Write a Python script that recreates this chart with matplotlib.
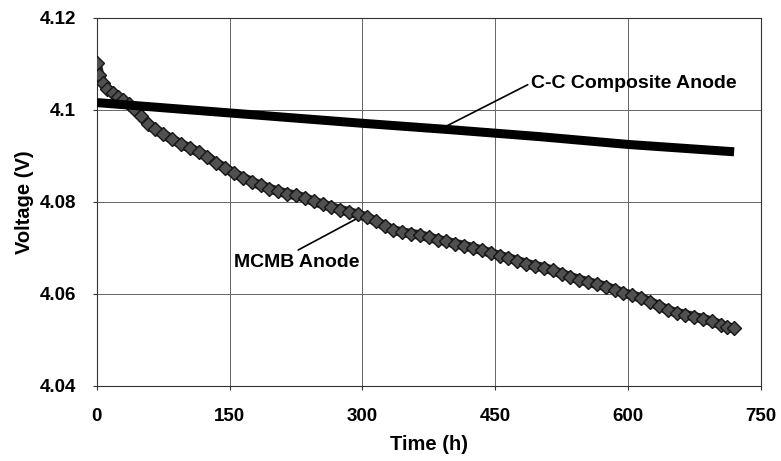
import matplotlib
matplotlib.use("Agg")
import matplotlib.pyplot as plt

plt.rcParams['font.family'] = ['Liberation Sans', 'DejaVu Sans']
plt.rcParams['font.weight'] = 'bold'

# MCMB anode: voltage
mcmb_time = [0, 3, 7, 12, 18, 24, 30, 36, 42, 50, 58, 66, 75, 85, 95, 105, 115, 125,
             135, 145, 155, 165, 175, 185, 195, 205, 215, 225, 235, 245, 255, 265,
             275, 285, 295, 305, 315, 325, 335, 345, 355, 365, 375, 385, 395, 405,
             415, 425, 435, 445, 455, 465, 475, 485, 495, 505, 515, 525, 535, 545,
             555, 565, 575, 585, 595, 605, 615, 625, 635, 645, 655, 665, 675, 685,
             695, 705, 712, 720]
mcmb_volt = [4.1102, 4.1075, 4.1058, 4.1046, 4.1036, 4.1029, 4.1021, 4.1012, 4.1002,
             4.0986, 4.0970, 4.0958, 4.0947, 4.0936, 4.0926, 4.0917, 4.0908, 4.0898,
             4.0884, 4.0874, 4.0862, 4.0853, 4.0844, 4.0836, 4.0829, 4.0823, 4.0818,
             4.0814, 4.0809, 4.0801, 4.0795, 4.0789, 4.0783, 4.0778, 4.0773, 4.0767,
             4.0758, 4.0748, 4.0739, 4.0734, 4.0731, 4.0728, 4.0723, 4.0718, 4.0714,
             4.0709, 4.0705, 4.0700, 4.0695, 4.0689, 4.0683, 4.0678, 4.0672, 4.0666,
             4.0661, 4.0657, 4.0651, 4.0644, 4.0637, 4.0631, 4.0626, 4.0621, 4.0616,
             4.0609, 4.0602, 4.0597, 4.0591, 4.0583, 4.0574, 4.0565, 4.0559, 4.0555,
             4.0550, 4.0546, 4.0540, 4.0533, 4.0528, 4.0525]

# C-C composite anode: nearly straight line
cc_time = [0, 100, 200, 300, 400, 500, 600, 720]
cc_volt = [4.1016, 4.1001, 4.0986, 4.0971, 4.0957, 4.0942, 4.0925, 4.0909]

x_ticks = [0, 150, 300, 450, 600, 750]
y_ticks = [4.04, 4.06, 4.08, 4.10, 4.12]
y_labels = ['4.04', '4.06', '4.08', '4.1', '4.12']

fig = plt.figure(figsize=(7.81, 4.61), dpi=100)
ax = fig.add_axes([0.124, 0.163, 0.850, 0.798])

ax.plot(mcmb_time, mcmb_volt, color='#262626', lw=7, solid_capstyle='round', zorder=3)
ax.plot(mcmb_time, mcmb_volt, ls='none', marker='D', ms=7, mfc='#505050',
        mec='#161616', mew=1.0, zorder=4)
ax.plot(cc_time, cc_volt, color='black', lw=6.5, solid_capstyle='butt', zorder=5)

ax.set_xlim(0, 750)
ax.set_ylim(4.04, 4.12)
ax.set_xticks(x_ticks)
ax.set_yticks(y_ticks)
ax.set_yticklabels(y_labels)
ax.grid(True, color='#666666', lw=0.7)
ax.set_axisbelow(True)
for s in ax.spines.values():
    s.set_color('#333333')
    s.set_linewidth(0.8)
ax.tick_params(axis='both', labelsize=13.5, length=3, width=0.8, color='#333333')
ax.tick_params(axis='x', pad=13)
ax.tick_params(axis='y', pad=12)

ax.set_xlabel('Time (h)', fontsize=14.5, fontweight='bold', labelpad=7)
ax.set_ylabel('Voltage (V)', fontsize=14.5, fontweight='bold', labelpad=4)

ax.annotate('C-C Composite Anode', xy=(392, 4.0962), xytext=(490, 4.1058),
            fontsize=14, fontweight='bold', va='center', ha='left',
            arrowprops=dict(arrowstyle='-', color='black', lw=1.2,
                            shrinkA=0, shrinkB=0, relpos=(0.0, 0.5)))
ax.annotate('MCMB Anode', xy=(296, 4.0766), xytext=(155, 4.0668),
            fontsize=14, fontweight='bold', va='center', ha='left',
            arrowprops=dict(arrowstyle='-', color='black', lw=1.2,
                            shrinkA=2, shrinkB=0,
                            relpos=(0.45, 1.0)))

fig.savefig('out.png', dpi=100)
